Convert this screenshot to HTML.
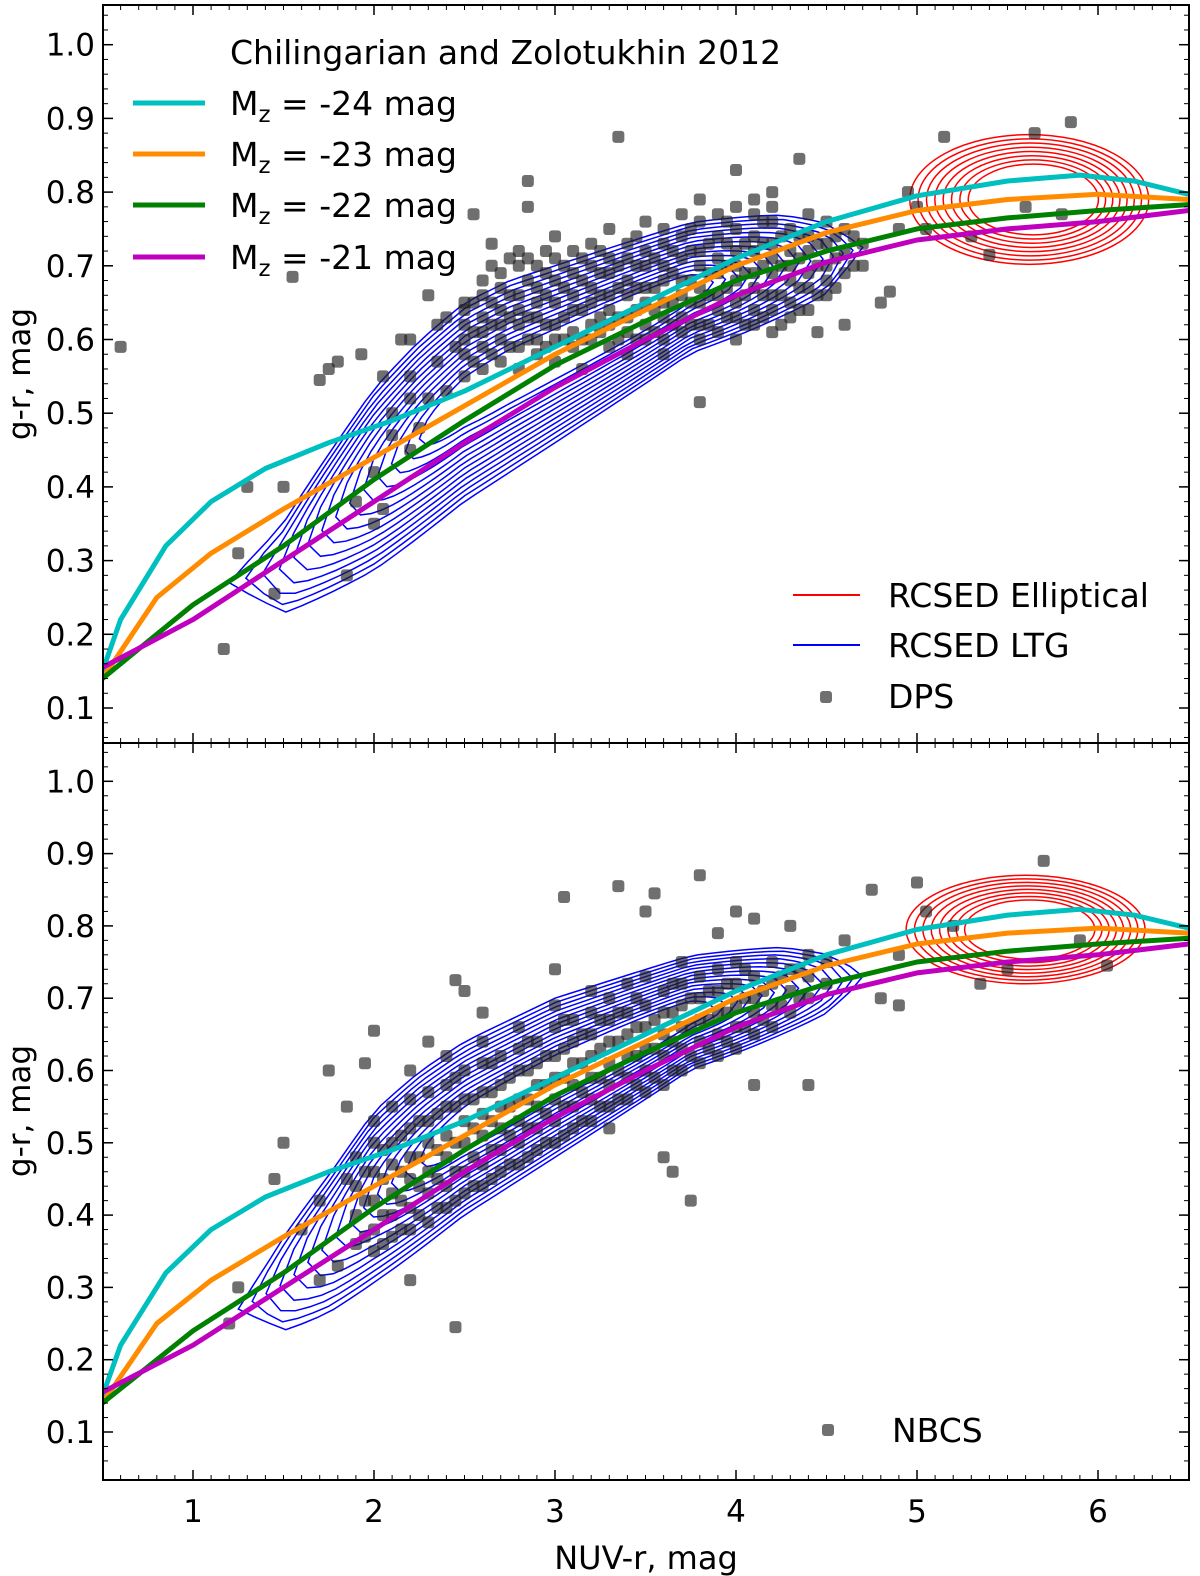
<!DOCTYPE html>
<html><head><meta charset="utf-8">
<style>
html,body{margin:0;padding:0;background:#fff;}
svg{display:block;font-family:"DejaVu Sans","Liberation Sans",sans-serif;}
</style></head>
<body>
<svg id="chart" width="1200" height="1576" viewBox="0 0 1200 1576" xmlns="http://www.w3.org/2000/svg">
<g id="topPanel"></g>
<g id="botPanel"></g>
<g id="frame"></g>
<text x="30" y="374" font-size="31" text-anchor="middle" transform="rotate(-90 30 374)">g-r, mag</text>
<text x="30" y="1111" font-size="31" text-anchor="middle" transform="rotate(-90 30 1111)">g-r, mag</text>
<text x="646" y="1569" font-size="32" text-anchor="middle">NUV-r, mag</text>
<g>
<text x="230" y="64" font-size="33">Chilingarian and Zolotukhin 2012</text>
<line x1="133" y1="103" x2="205" y2="103" stroke="#00bfbf" stroke-width="5"/>
<text x="230" y="115" font-size="33">M<tspan font-size="23" dy="7">z</tspan><tspan dy="-7"> = -24 mag</tspan></text>
<line x1="133" y1="154" x2="205" y2="154" stroke="#ff8c00" stroke-width="5"/>
<text x="230" y="166" font-size="33">M<tspan font-size="23" dy="7">z</tspan><tspan dy="-7"> = -23 mag</tspan></text>
<line x1="133" y1="205" x2="205" y2="205" stroke="#008000" stroke-width="5"/>
<text x="230" y="217" font-size="33">M<tspan font-size="23" dy="7">z</tspan><tspan dy="-7"> = -22 mag</tspan></text>
<line x1="133" y1="257" x2="205" y2="257" stroke="#bf00bf" stroke-width="5"/>
<text x="230" y="269" font-size="33">M<tspan font-size="23" dy="7">z</tspan><tspan dy="-7"> = -21 mag</tspan></text>
</g>
<g>
<line x1="793" y1="595" x2="860" y2="595" stroke="#ff0000" stroke-width="2"/>
<text x="888" y="607" font-size="33">RCSED Elliptical</text>
<line x1="793" y1="645" x2="860" y2="645" stroke="#0000ff" stroke-width="2"/>
<text x="888" y="657" font-size="33">RCSED LTG</text>
<rect x="820" y="691" width="12" height="12" rx="3" fill="#333" fill-opacity="0.7"/>
<text x="888" y="708" font-size="33">DPS</text>
</g>
<g>
<rect x="822" y="1424" width="12" height="12" rx="3" fill="#333" fill-opacity="0.7"/>
<text x="892" y="1442" font-size="33">NBCS</text>
</g>
</svg>
<script>
// ---- data ----
const curveX = [0.5,0.6,0.85,1.1,1.4,1.75,2.1,2.5,3,3.5,4,4.5,5,5.5,5.9,6.2,6.5];
const m24 = [0.15,0.22,0.32,0.38,0.425,0.46,0.49,0.53,0.59,0.65,0.71,0.76,0.795,0.815,0.823,0.815,0.797];
const curveX2 = [0.5,0.8,1.1,1.5,2,2.5,3,3.5,4,4.5,5,5.5,6,6.5];
const m23 = [0.14,0.25,0.31,0.37,0.44,0.51,0.58,0.64,0.7,0.745,0.775,0.79,0.797,0.79];
const curveX3 = [0.5,1,1.5,2,2.5,3,3.5,4,4.5,5,5.5,6,6.5];
const m22 = [0.14,0.24,0.32,0.41,0.49,0.565,0.625,0.68,0.72,0.75,0.765,0.775,0.783];
const m21 = [0.155,0.22,0.3,0.38,0.46,0.535,0.6,0.66,0.705,0.735,0.75,0.76,0.775];

const dpsColumns = [
 [2.5,[0.55,0.58,0.6,0.62,0.64]],[2.6,[0.56,0.59,0.61,0.63,0.66,0.68]],[2.7,[0.57,0.6,0.62,0.64,0.67,0.69]],
 [2.8,[0.56,0.59,0.62,0.64,0.66,0.7,0.72]],[2.9,[0.58,0.6,0.63,0.65,0.67,0.7]],[3.0,[0.57,0.6,0.62,0.65,0.68,0.71,0.74]],
 [3.1,[0.59,0.61,0.64,0.66,0.69,0.72]],[3.2,[0.6,0.62,0.65,0.67,0.7,0.73]],[3.3,[0.59,0.62,0.64,0.66,0.69,0.71,0.75]],
 [3.4,[0.58,0.61,0.63,0.66,0.68,0.71,0.73]],[3.5,[0.6,0.62,0.65,0.67,0.7,0.72,0.76]],[3.6,[0.6,0.63,0.65,0.68,0.7,0.73,0.75]],
 [3.7,[0.61,0.63,0.66,0.68,0.71,0.74,0.77]],[3.8,[0.6,0.62,0.65,0.67,0.7,0.72,0.76,0.79]],[3.9,[0.61,0.64,0.66,0.69,0.71,0.74,0.77]],
 [4.0,[0.6,0.63,0.65,0.68,0.7,0.72,0.75,0.78]],[4.1,[0.62,0.64,0.67,0.69,0.72,0.74,0.77]],[4.2,[0.61,0.64,0.66,0.69,0.71,0.73,0.76,0.78]],
 [4.3,[0.63,0.65,0.68,0.7,0.72,0.75]],[4.4,[0.64,0.67,0.69,0.72,0.74,0.77]],[4.5,[0.66,0.68,0.7,0.73,0.76]],
 [4.6,[0.69,0.72,0.75]],[4.7,[0.7,0.73]]
];
const dpsColumnsB = [
 [2.55,[0.57,0.61,0.65]],[2.65,[0.58,0.62,0.65,0.7]],[2.75,[0.59,0.63,0.66,0.71]],[2.85,[0.6,0.63,0.68,0.71]],
 [2.95,[0.59,0.62,0.66,0.69,0.72]],[3.05,[0.6,0.63,0.67,0.7]],[3.15,[0.6,0.64,0.68,0.71]],[3.25,[0.61,0.63,0.66,0.69,0.72]],
 [3.35,[0.6,0.63,0.67,0.7]],[3.45,[0.6,0.64,0.67,0.7,0.74]],[3.55,[0.61,0.64,0.67,0.71]],[3.65,[0.62,0.65,0.69,0.72]],
 [3.75,[0.62,0.65,0.68,0.72,0.75]],[3.85,[0.62,0.66,0.69,0.73]],[3.95,[0.63,0.67,0.7,0.73,0.76]],[4.05,[0.62,0.66,0.69,0.73]],
 [4.15,[0.63,0.66,0.7,0.73,0.76]],[4.25,[0.62,0.66,0.7,0.74]],[4.35,[0.64,0.67,0.71,0.74]],[4.45,[0.66,0.7,0.73]],
 [4.55,[0.67,0.71,0.74]],[4.65,[0.7,0.74]]
];
const dpsOutliers = [[0.6,0.59],[1.17,0.18],[1.55,0.685],[1.7,0.545],[1.75,0.56],[1.8,0.57],[1.93,0.58],[1.3,0.4],[1.25,0.31],
 [1.45,0.255],[1.85,0.28],[2.0,0.35],[2.05,0.37],[3.35,0.875],[2.85,0.815],[2.85,0.78],[2.65,0.73],[2.55,0.77],[4.0,0.83],
 [4.35,0.845],[4.1,0.79],[4.2,0.8],[5.15,0.875],[5.65,0.88],[5.85,0.895],[5.0,0.78],[5.05,0.75],[5.3,0.74],[5.4,0.715],
 [3.8,0.515],[4.6,0.62],[4.8,0.65],[4.85,0.665],[2.2,0.6],[2.35,0.62],[2.3,0.66],[2.4,0.63],[2.5,0.65],[2.45,0.59],
 [2.2,0.55],[2.1,0.47],[2.25,0.48],[2.3,0.52],[2.1,0.5],[2.2,0.52],[2.35,0.57],[2.4,0.53],[2.2,0.45],[2.0,0.42],[1.9,0.38],
 [2.15,0.6],[4.9,0.75],[5.6,0.78],[5.8,0.77],[4.95,0.8],[3.15,0.56],[3.6,0.58],[4.45,0.61],[1.5,0.4],[2.05,0.55]];

const nbcsColumns = [
 [1.9,[0.36,0.4,0.44,0.48]],[2.0,[0.35,0.38,0.42,0.46,0.5,0.53]],[2.1,[0.37,0.4,0.43,0.47,0.5,0.55]],
 [2.2,[0.38,0.41,0.45,0.48,0.52,0.56,0.6]],[2.3,[0.39,0.43,0.46,0.5,0.53,0.57]],[2.4,[0.41,0.44,0.48,0.51,0.55,0.58,0.62]],
 [2.5,[0.43,0.46,0.5,0.53,0.56,0.6]],[2.6,[0.44,0.47,0.51,0.54,0.57,0.61,0.64]],[2.7,[0.46,0.49,0.52,0.55,0.58,0.62]],
 [2.8,[0.47,0.5,0.53,0.56,0.6,0.63,0.66]],[2.9,[0.49,0.52,0.55,0.58,0.61,0.64]],[3.0,[0.5,0.53,0.56,0.59,0.62,0.66,0.69]],
 [3.1,[0.52,0.55,0.58,0.61,0.64,0.67]],[3.2,[0.53,0.56,0.59,0.62,0.65,0.68,0.71]],[3.3,[0.55,0.58,0.61,0.64,0.67,0.7]],
 [3.4,[0.56,0.59,0.62,0.65,0.68,0.72]],[3.5,[0.57,0.6,0.63,0.66,0.69,0.73]],[3.6,[0.58,0.62,0.65,0.68,0.71]],
 [3.7,[0.6,0.63,0.66,0.69,0.72,0.75]],[3.8,[0.61,0.64,0.67,0.7,0.73]],[3.9,[0.62,0.65,0.68,0.71,0.74]],
 [4.0,[0.63,0.66,0.69,0.72,0.75]],[4.1,[0.65,0.68,0.7,0.73]],[4.2,[0.66,0.69,0.72,0.75]],[4.3,[0.68,0.71,0.74]],
 [4.4,[0.7,0.73,0.76]],[4.5,[0.72,0.75]]
];
const nbcsColumnsB = [
 [1.95,[0.37,0.42,0.46]],[2.05,[0.36,0.4,0.45,0.49]],[2.15,[0.38,0.42,0.46,0.51]],[2.25,[0.4,0.44,0.48,0.53]],
 [2.35,[0.41,0.45,0.49,0.54]],[2.45,[0.42,0.46,0.5,0.55,0.59]],[2.55,[0.44,0.48,0.52,0.56]],[2.65,[0.45,0.49,0.53,0.57,0.61]],
 [2.75,[0.47,0.51,0.55,0.59]],[2.85,[0.48,0.52,0.56,0.6,0.64]],[2.95,[0.5,0.54,0.58,0.62]],[3.05,[0.51,0.55,0.59,0.63,0.67]],
 [3.15,[0.53,0.57,0.61,0.65]],[3.25,[0.55,0.59,0.63,0.67]],[3.35,[0.56,0.6,0.64,0.68]],[3.45,[0.58,0.62,0.66,0.7]],
 [3.55,[0.59,0.63,0.67]],[3.65,[0.6,0.64,0.68,0.72]],[3.75,[0.62,0.66,0.7]],[3.85,[0.63,0.67,0.71]],[3.95,[0.64,0.68,0.72]],
 [4.05,[0.66,0.7,0.74]],[4.15,[0.67,0.71]],[4.25,[0.69,0.73]],[4.35,[0.7,0.74]]
];
const nbcsOutliers = [[1.5,0.5],[1.45,0.45],[1.2,0.25],[1.25,0.3],[2.45,0.245],[1.75,0.6],[2.0,0.655],[2.45,0.725],[2.5,0.71],
 [3.05,0.84],[3.35,0.855],[3.55,0.845],[3.8,0.87],[3.5,0.82],[3.6,0.48],[3.65,0.46],[3.75,0.42],[4.0,0.82],[4.1,0.81],
 [4.1,0.58],[4.4,0.58],[4.75,0.85],[5.0,0.86],[5.7,0.89],[6.05,0.745],[5.5,0.74],[4.9,0.69],[4.8,0.7],[1.8,0.33],[1.7,0.31],
 [1.85,0.55],[2.2,0.31],[1.95,0.61],[2.3,0.64],[2.6,0.68],[3.0,0.74],[4.6,0.78],[4.9,0.76],[5.2,0.8],[5.35,0.72],[5.9,0.78],
 [1.6,0.38],[1.7,0.42],[1.85,0.45],[3.3,0.52],[3.9,0.79],[4.3,0.8],[5.05,0.82]];

const ltgTopX = [1.2,1.5,1.75,2,2.25,2.5,2.75,3,3.25,3.5,3.75,4,4.25,4.5,4.7];
const ltgTopUpper = [0.3,0.38,0.46,0.54,0.6,0.65,0.68,0.7,0.72,0.74,0.76,0.77,0.78,0.78,0.75];
const ltgTopLower = [0.24,0.2,0.24,0.28,0.33,0.38,0.42,0.46,0.5,0.54,0.58,0.6,0.62,0.64,0.7];
const ltgBotX = [1.25,1.5,1.75,2,2.25,2.5,2.75,3,3.25,3.5,3.75,4,4.25,4.5,4.7];
const ltgBotUpper = [0.3,0.4,0.47,0.55,0.6,0.64,0.67,0.7,0.72,0.74,0.76,0.77,0.78,0.78,0.76];
const ltgBotLower = [0.24,0.21,0.25,0.3,0.35,0.4,0.44,0.48,0.52,0.56,0.6,0.62,0.64,0.66,0.7];
const ellTop = {cx:5.62, cy:0.79, rx:0.66, ry:0.088};
const ellBot = {cx:5.6, cy:0.795, rx:0.66, ry:0.075};

const xTicks = [1,2,3,4,5,6];
const yTicks = [0.1,0.2,0.3,0.4,0.5,0.6,0.7,0.8,0.9,1.0];

// ---- scales ----
const L=103, R=1189, T=5, M=743, B=1480;
const X = x => 102.5 + (x-0.5)*181;
const Ytop = y => 708 - (y-0.1)*737;
const Ybot = y => 1432 - (y-0.1)*723;
const NS="http://www.w3.org/2000/svg";
function mk(tag, parent, attrs){const e=document.createElementNS(NS,tag);for(const k in attrs)e.setAttribute(k,attrs[k]);parent.appendChild(e);return e;}
function interp(xs,ys,t){const n=xs.length-1;const p=t*n;const i=Math.min(Math.floor(p),n-1);const f=p-i;return [xs[i]+(xs[i+1]-xs[i])*f, ys[i]+(ys[i+1]-ys[i])*f];}

function drawPanel(g, Y, ltgX, ltgU, ltgL, ell, cols, cols2, outs, clipId, yTopBound, yBotBound){
  const clip = mk('clipPath', g, {id:clipId});
  mk('rect', clip, {x:L, y:yTopBound, width:R-L, height:yBotBound-yTopBound});
  const inner = mk('g', g, {'clip-path':'url(#'+clipId+')'});
  const ltgG = mk('g', inner, {});
  
  
  for(let k=0;k<14;k++){
    const f = 1 - k*0.055;
    const a = (1-f)*0.4, b = (1-f)*0.35;
    const up=[], lo=[];
    for(let s=0;s<=40;s++){
      const u = s/40, t = a + (1-a-b)*u;
      const pu = interp(ltgX, ltgU, t), pl = interp(ltgX, ltgL, t);
      const mid = (pu[1]+pl[1])/2, hw = (pu[1]-pl[1])/2;
      const taper = Math.sqrt(Math.max(0,1-Math.pow(Math.abs(2*u-1),4)));
      const w = hw*f*taper;
      up.push([X(pu[0]), Y(mid+w)]); lo.push([X(pl[0]), Y(mid-w)]);
    }
    const pts = up.concat(lo.reverse()).map(p=>p[0].toFixed(1)+','+p[1].toFixed(1)).join(' ');
    const pg = mk('polygon', ltgG, {points:pts, fill:'none', stroke:'#0000ff', 'stroke-width':1.5});
    
    
  }
  const eG = mk('g', inner, {});
  
  
  for(let k=0;k<8;k++){
    const f = 1 - k*0.065;
    const el = mk('ellipse', eG, {cx:X(ell.cx+(1-f)*0.05), cy:Y(ell.cy), rx:ell.rx*181*f, ry:Math.abs(Y(0)-Y(ell.ry))*f, fill:'none', stroke:'#ff0000', 'stroke-width':1.5});
    
    
  }
  const sG = mk('g', inner, {});
  
  
  const pts=[];
  cols.forEach(c=>c[1].forEach(v=>pts.push([c[0],v])));
  cols2.forEach(c=>c[1].forEach(v=>pts.push([c[0],v])));
  outs.forEach(p=>pts.push(p));
  pts.forEach(p=>{
    const r = mk('rect', sG, {x:X(p[0])-6, y:Y(p[1])-6, width:12, height:12, rx:3, fill:'#222', 'fill-opacity':0.65});
    
    
  });
  const curves=[[curveX,m24,'#00bfbf','curve-m24'],[curveX2,m23,'#ff8c00','curve-m23'],[curveX3,m22,'#008000','curve-m22'],[curveX3,m21,'#bf00bf','curve-m21']];
  curves.forEach(c=>{
    const d = c[0].map((x,i)=>(i?'L':'M')+X(x).toFixed(1)+','+Y(c[1][i]).toFixed(1)).join(' ');
    const p = mk('path', inner, {d:d, fill:'none', stroke:c[2], 'stroke-width':5, 'stroke-linejoin':'round'});
    
    
  });
  const tG = mk('g', g, {});
  
  
  yTicks.forEach(v=>{
    const y=Y(v);
    mk('line', tG, {x1:L, y1:y, x2:L+10, y2:y, stroke:'#000', 'stroke-width':1.5});
    mk('line', tG, {x1:R-10, y1:y, x2:R, y2:y, stroke:'#000', 'stroke-width':1.5});
    const t = mk('text', tG, {x:95, y:y+11, 'font-size':31, 'text-anchor':'end'});
    t.textContent = v.toFixed(1);
    
    
  });
  for(let v=0.06; v<1.06; v+=0.02){
    const y=Y(v); if(y<yTopBound+1||y>yBotBound-1) continue;
    mk('line', tG, {x1:L, y1:y, x2:L+5, y2:y, stroke:'#000', 'stroke-width':1});
    mk('line', tG, {x1:R-5, y1:y, x2:R, y2:y, stroke:'#000', 'stroke-width':1});
  }
  for(let i=5;i<=65;i++){
    const v=i/10, x=X(v), major = i%10===0, len = major?10:5;
    mk('line', tG, {x1:x, y1:yTopBound, x2:x, y2:yTopBound+len, stroke:'#000', 'stroke-width':major?1.5:1});
    mk('line', tG, {x1:x, y1:yBotBound-len, x2:x, y2:yBotBound, stroke:'#000', 'stroke-width':major?1.5:1});
  }
}
drawPanel(document.getElementById('topPanel'), Ytop, ltgTopX, ltgTopUpper, ltgTopLower, ellTop, dpsColumns, dpsColumnsB, dpsOutliers, 'clipTop', T, M);
drawPanel(document.getElementById('botPanel'), Ybot, ltgBotX, ltgBotUpper, ltgBotLower, ellBot, nbcsColumns, nbcsColumnsB, nbcsOutliers, 'clipBot', M, B);

const fr = document.getElementById('frame');
mk('rect', fr, {x:L, y:T, width:R-L, height:B-T, fill:'none', stroke:'#000', 'stroke-width':2});
mk('line', fr, {x1:L, y1:M, x2:R, y2:M, stroke:'#000', 'stroke-width':2});
xTicks.forEach(v=>{
  const t = mk('text', fr, {x:X(v), y:1522, 'font-size':31, 'text-anchor':'middle'});
  t.textContent = String(v);
  
  
});
</script>
</body></html>
